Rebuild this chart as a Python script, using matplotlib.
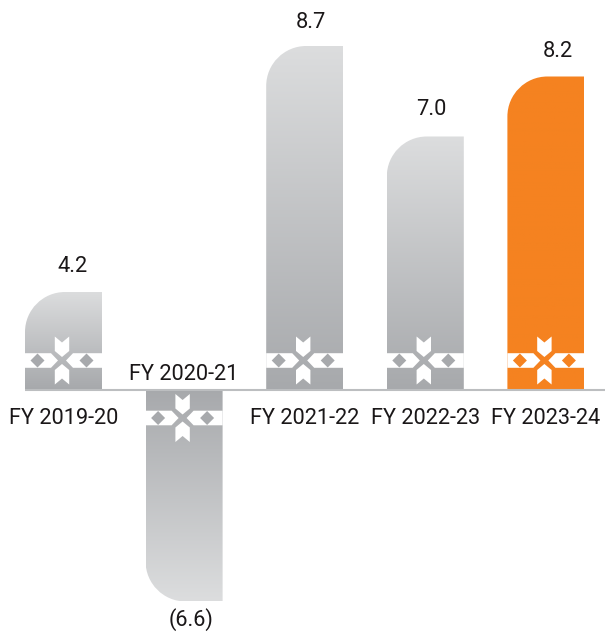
import matplotlib
matplotlib.use('Agg')
import matplotlib.pyplot as plt
import numpy as np
from matplotlib.colors import to_rgb
from matplotlib.patches import PathPatch, Polygon
from matplotlib.path import Path

plt.rcParams['font.family'] = ['Roboto', 'DejaVu Sans']

categories = ['FY 2019-20', 'FY 2020-21', 'FY 2021-22', 'FY 2022-23', 'FY 2023-24']
value_labels = ['4.2', '(6.6)', '8.7', '7.0', '8.2']
# the bars in the picture are not to scale with their labels, so heights are read separately
bar_heights = [97.5, -212, 343.5, 253, 313]
light_colors = ['#dcddde', '#dcddde', '#dcddde', '#dcddde', '#f58220']
dark_colors = ['#a7a9ac', '#a7a9ac', '#a7a9ac', '#a7a9ac', '#f58220']

# label placement, pixels from the bar centre / bar end
label_dx = [8.5, 7, 6.5, 6, 12]
label_dy = [25.5, -18, 23, 27, 25]

WIDTH = 77
STEP = 120.6
X0 = 63.5
BASE = 389.5
RADIUS = 40
FONT = 15.7
TEXT = '#1a1718'


def bar_path(left, right, h):
    # one rounded corner on the outer left side
    r = RADIUS if h > 0 else -RADIUS
    k = 0.5523
    verts = [(left, 0), (left, h - r), (left, h - r + k * r), (left + RADIUS - k * RADIUS, h),
             (left + RADIUS, h), (right, h), (right, 0), (left, 0)]
    codes = [Path.MOVETO, Path.LINETO, Path.CURVE4, Path.CURVE4, Path.CURVE4,
             Path.LINETO, Path.LINETO, Path.CLOSEPOLY]
    return Path(verts, codes)


def draw_motif(ax, cx, cy, color):
    left, right = cx - WIDTH / 2, cx + WIDTH / 2
    mx = cx - 1.5  # motif sits a little left of the bar centre
    # white band, cut to a point on each side of the centre
    ax.add_patch(Polygon([(left, cy - 7.3), (mx - 11, cy - 7.3), (mx - 4, cy), (mx - 11, cy + 7.3), (left, cy + 7.3)],
                         fc='white', ec='none', zorder=3))
    ax.add_patch(Polygon([(right, cy - 7.3), (mx + 11, cy - 7.3), (mx + 4, cy), (mx + 11, cy + 7.3), (right, cy + 7.3)],
                         fc='white', ec='none', zorder=3))
    # side diamonds
    for dx in (-24.5, 24.5):
        ax.add_patch(Polygon([(mx + dx - 7, cy), (mx + dx, cy + 7), (mx + dx + 7, cy), (mx + dx, cy - 7)],
                             fc=color, ec='none', zorder=4))
    # white arrows above and below
    for s in (1, -1):
        ax.add_patch(Polygon([(mx, cy + s * 3.5), (mx + 7.2, cy + s * 9.5), (mx + 7.2, cy + s * 24),
                              (mx, cy + s * 18), (mx - 7.2, cy + s * 24), (mx - 7.2, cy + s * 9.5)],
                             fc='white', ec='none', zorder=5))


fig = plt.figure(figsize=(6.05, 6.32), dpi=100)
ax = fig.add_axes([0, 0, 1, 1])
ax.axis('off')

for i, h in enumerate(bar_heights):
    cx = X0 + i * STEP
    left, right = cx - WIDTH / 2, cx + WIDTH / 2
    t = np.linspace(0, 1, 256)[:, None, None]
    grad = np.array(to_rgb(light_colors[i])) * (1 - t) + np.array(to_rgb(dark_colors[i])) * t
    if h < 0:
        grad = grad[::-1]
    # row 0 is the top of the image, light end is always away from the axis
    im = ax.imshow(grad, extent=[left, right, min(h, 0), max(h, 0)], origin='upper',
                   aspect='auto', zorder=2)
    clip = PathPatch(bar_path(left, right, h), fc='none', ec='none', transform=ax.transData)
    ax.add_patch(clip)
    im.set_clip_path(clip)
    draw_motif(ax, cx, 29 if h > 0 else -28.5, dark_colors[i])

    ax.text(cx + label_dx[i], h + label_dy[i], value_labels[i], ha='center', va='center',
            fontsize=FONT, color=TEXT)
    cat_y = -29.5 if h > 0 else 15
    ax.text(cx, cat_y, categories[i], ha='center', va='center', fontsize=FONT, color=TEXT, zorder=6)

ax.set_xlim(0, 605)
ax.set_ylim(BASE - 632, BASE)
ax.plot([25, 605], [0, 0], color='#bcbec0', lw=1.5, zorder=6, solid_capstyle='butt')

fig.savefig('out.png', dpi=100)
